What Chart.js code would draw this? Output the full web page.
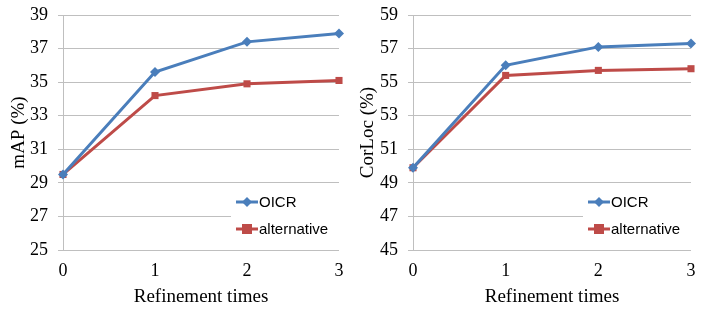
<!DOCTYPE html>
<html>
<head>
<meta charset="utf-8">
<script src="https://cdn.jsdelivr.net/npm/chart.js@4"></script>
<style>
  body { margin: 0; background: #fff; }
  .wrap { display: flex; width: 706px; height: 311px; }
  .panel { width: 353px; height: 311px; }
</style>
</head>
<body>
<div class="wrap">
  <div class="panel"><canvas id="mapChart" width="353" height="311"></canvas></div>
  <div class="panel"><canvas id="corlocChart" width="353" height="311"></canvas></div>
</div>
<script>
// refinement steps on the x axis
const refinements = ["0", "1", "2", "3"];

// left panel: mAP (%)
const mapOicr = [29.5, 35.6, 37.4, 37.9];
const mapAlt = [29.5, 34.2, 34.9, 35.1];

// right panel: CorLoc (%)
const corOicr = [49.9, 56.0, 57.1, 57.3];
const corAlt = [49.9, 55.4, 55.7, 55.8];

const blue = "#4a7ebb";
const red = "#be4b48";
const gridGray = "#bfbfbf";
const serif = "'Liberation Serif', 'Times New Roman', serif";

// legend drawn inside the plot, lower right, on a white box
const insideLegend = {
  id: "insideLegend",
  afterDatasetsDraw(chart) {
    const ctx = chart.ctx;
    const area = chart.chartArea;
    const x0 = area.right - 106;
    const y0 = area.bottom - 60;
    ctx.save();
    ctx.fillStyle = "#fff";
    ctx.fillRect(x0 - 2, y0, 110, 58);
    chart.data.datasets.forEach((ds, i) => {
      const y = y0 + 12 + i * 27;
      ctx.strokeStyle = ds.borderColor;
      ctx.lineWidth = 3;
      ctx.beginPath();
      ctx.moveTo(x0 + 3, y);
      ctx.lineTo(x0 + 25, y);
      ctx.stroke();
      ctx.fillStyle = ds.borderColor;
      ctx.beginPath();
      if (ds.pointStyle === "rectRot") {
        ctx.moveTo(x0 + 14, y - 5);
        ctx.lineTo(x0 + 19, y);
        ctx.lineTo(x0 + 14, y + 5);
        ctx.lineTo(x0 + 9, y);
        ctx.closePath();
      } else {
        ctx.rect(x0 + 9, y - 5, 10, 10);
      }
      ctx.fill();
      ctx.fillStyle = "#000";
      ctx.font = "15px 'Liberation Sans', Arial, sans-serif";
      ctx.textBaseline = "middle";
      ctx.textAlign = "left";
      ctx.fillText(ds.label, x0 + 26, y + 1);
    });
    ctx.restore();
  }
};

function makeChart(id, title, oicr, alt, yMin, yMax, padLeft, padRight, axisWidth) {
  const ctx = document.getElementById(id).getContext("2d");
  return new Chart(ctx, {
    type: "line",
    data: {
      labels: refinements,
      datasets: [
        {
          label: "OICR",
          data: oicr,
          borderColor: blue,
          backgroundColor: blue,
          borderWidth: 3,
          pointStyle: "rectRot",
          pointRadius: 5,
          pointBorderWidth: 0,
          tension: 0
        },
        {
          label: "alternative",
          data: alt,
          borderColor: red,
          backgroundColor: red,
          borderWidth: 3,
          pointStyle: "rect",
          pointRadius: 5,
          pointBorderWidth: 0,
          tension: 0
        }
      ]
    },
    options: {
      responsive: false,
      animation: false,
      layout: { padding: { top: 15, right: padRight, left: padLeft, bottom: 0 } },
      plugins: {
        legend: { display: false },
        tooltip: { enabled: false }
      },
      scales: {
        x: {
          offset: false,
          grid: { display: false },
          border: { display: false },
          ticks: {
            color: "#000",
            padding: 2,
            font: { family: serif, size: 18 }
          },
          title: {
            display: true,
            text: "Refinement times",
            color: "#000",
            padding: { top: 0, bottom: 3 },
            font: { family: serif, size: 19 }
          },
          afterFit(scale) { scale.height = 61; }
        },
        y: {
          min: yMin,
          max: yMax,
          grid: { color: gridGray, tickLength: 5, lineWidth: 1 },
          border: { display: true, color: gridGray },
          ticks: {
            stepSize: 2,
            color: "#000",
            padding: 10,
            font: { family: serif, size: 18 }
          },
          title: {
            display: true,
            text: title,
            color: "#000",
            padding: { top: 0, bottom: 0 },
            font: { family: serif, size: 19 }
          },
          afterFit(scale) {
            scale.width = axisWidth;
            // keep label padding from pushing the plot top down
            scale.paddingTop = 8;
            scale.paddingBottom = 8;
          }
        }
      }
    },
    plugins: [insideLegend]
  });
}

makeChart("mapChart", "mAP (%)", mapOicr, mapAlt, 25, 39, 8, 14, 55);
makeChart("corlocChart", "CorLoc (%)", corOicr, corAlt, 45, 59, 4, 15, 56);
</script>
</body>
</html>
